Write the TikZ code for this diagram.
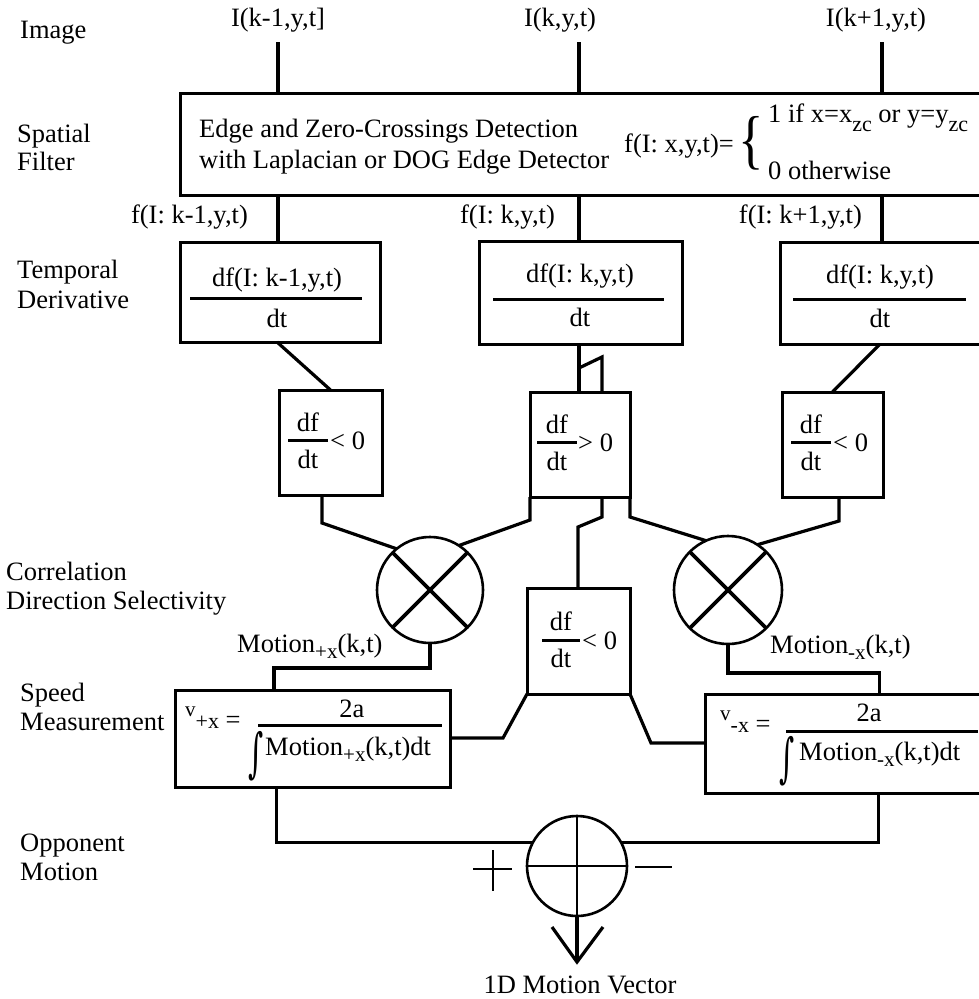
\documentclass[tikz,border=0pt]{standalone}
\usepackage{fontspec}
\setmainfont{Liberation Serif}
\newfontfamily\dejav{DejaVu Serif}
\usepackage{graphicx}
\usetikzlibrary{calc}
\newcommand\sbs[1]{\raisebox{-6pt}{\fontsize{21}{22}\selectfont #1}}
\newcommand\sbz[1]{\raisebox{-9pt}{\fontsize{22}{22}\selectfont #1}}
\begin{document}
\begin{tikzpicture}[x=1pt,y=-1pt,
 font=\fontsize{26.5}{30}\selectfont,
 box/.style={draw,line width=3pt,inner sep=0pt,outer sep=0pt},
 wire/.style={line width=3.2pt},
 xwire/.style={line width=3.6pt},
 fbar/.style={line width=3pt},
 tb/.style={inner sep=0pt,anchor=base},
 tw/.style={inner sep=0pt,anchor=base west},
 te/.style={inner sep=0pt,anchor=base east},
 ring/.style={draw,circle,line width=2.6pt,inner sep=0pt,outer sep=0pt}]
\useasboundingbox (0,0) rectangle (979,999);
\clip (0,0) rectangle (979,999);
% left labels
\node[tw] (labImg) at (20,38) {Image};
\node[tw] (labSp1) at (17,142) {Spatial};
\node[tw] (labSp2) at (17,170) {Filter};
\node[tw] (labTd1) at (17,278) {Temporal};
\node[tw] (labTd2) at (17,308) {Derivative};
\node[tw] (labCo1) at (6,580) {Correlation};
\node[tw] (labCo2) at (6,609) {Direction Selectivity};
\node[tw] (labSm1) at (20,701) {Speed};
\node[tw] (labSm2) at (20,730) {Measurement};
\node[tw] (labOm1) at (20,851) {Opponent};
\node[tw] (labOm2) at (20,880) {Motion};
% inputs
\node[tb] (inL) at (278,26) {I(k-1,y,t]};
\node[tb] (inM) at (560,26) {I(k,y,t)};
\node[tb] (inR) at (876,26) {I(k+1,y,t)};
\coordinate (tL) at (278,42);
\coordinate (tM) at (579,42);
\coordinate (tR) at (882,42);
% spatial filter
\node[box,minimum width=810pt,minimum height=102pt] (sf) at (585,144) {};
\node[tw] (e1) at (199,137) {Edge and Zero-Crossings Detection};
\node[tw] (e2) at (199,168) {with Laplacian or DOG Edge Detector};
\node[tw] (fx) at (624,152) {f(I: x,y,t)=};
\node[inner sep=0pt] (br) at (751,143) {\scalebox{2.0}[2.45]{\{}};
\node[tw] (c1) at (768,122) {1 if x=x\sbz{zc} or y=y\sbz{zc}};
\node[tw] (c2) at (768,179) {0 otherwise};
\draw[wire] (tL) -- (tL |- sf.north);
\draw[wire] (tM) -- (tM |- sf.north);
\draw[wire] (tR) -- (tR |- sf.north);
% temporal derivative
\node[box,minimum width=200pt,minimum height=100pt] (dL) at (280,292) {};
\node[box,minimum width=203pt,minimum height=103pt] (dM) at (580.5,292.5) {};
\node[box,minimum width=210pt,minimum height=102pt] (dR) at (885,293) {};
\node[te] (fL) at (248,223) {f(I: k-1,y,t)};
\node[te] (fM) at (555,223) {f(I: k,y,t)};
\node[te] (fR) at (862,223) {f(I: k+1,y,t)};
\draw[wire] (tL |- sf.south) -- (tL |- dL.north);
\draw[wire] (tM |- sf.south) -- (tM |- dM.north);
\draw[wire] (tR |- sf.south) -- (tR |- dR.north);
\node[tb] (dLn) at (277,286) {df(I: k-1,y,t)};
\draw[fbar] (190,298) -- (362,298);
\node[tb] (dLd) at (277,327) {dt};
\node[tb] (dMn) at (580,282) {df(I: k,y,t)};
\draw[fbar] (493,299) -- (664,299);
\node[tb] (dMd) at (580,326) {dt};
\node[tb] (dRn) at (880,283) {df(I: k,y,t)};
\draw[fbar] (793,299) -- (966,299);
\node[tb] (dRd) at (880,327) {dt};
% sign boxes
\node[box,minimum width=103pt,minimum height=105pt] (sL) at (330.5,442.5) {};
\node[box,minimum width=100pt,minimum height=105pt] (sM) at (580,444.5) {};
\node[box,minimum width=101pt,minimum height=105pt] (sR) at (832.5,444.5) {};
\node[tb] (sLn) at (308,431) {df};
\draw[fbar] (288,440) -- (328,440);
\node[tb] (sLd) at (308,468) {dt};
\node[tw] (sLr) at (330,449) {< 0};
\node[tb] (sMn) at (557,433) {df};
\draw[fbar] (537,442) -- (577,442);
\node[tb] (sMd) at (557,470) {dt};
\node[tw] (sMr) at (578,451) {> 0};
\node[tb] (sRn) at (811,433) {df};
\draw[fbar] (791,442) -- (831,442);
\node[tb] (sRd) at (811,470) {dt};
\node[tw] (sRr) at (833,451) {< 0};
\draw[wire] ([xshift=-3pt]dL.south) -- (sL.north);
\draw[wire] (tM |- dM.south) -- (tM |- sM.north);
\coordinate (jA) at (579,368);
\coordinate (jB) at (602,357);
\draw[wire] (jA) -- (jB) -- (jB |- sM.north);
\draw[wire] ([xshift=-5pt]dR.south) -- (sR.north);
% correlators
\node[ring,minimum size=106pt] (cL) at (430,590) {};
\node[ring,minimum size=108pt] (cR) at (728,590) {};
\draw[xwire] (cL.45) -- (cL.225) (cL.135) -- (cL.315);
\draw[xwire] (cR.45) -- (cR.225) (cR.135) -- (cR.315);
\draw[wire] ([xshift=-8.5pt]sL.south) -- ++(0,28) -- (cL.129.5);
\draw[wire] (sM.south west) -- ++(0,23) -- (cL.57);
\draw[wire] (sM.south east) -- ++(0,20) -- (cR.114);
\draw[wire] ([xshift=6.5pt]sR.south) -- ++(0,24) -- (cR.57);
% lower middle
\node[box,minimum width=103pt,minimum height=106pt] (lm) at (578.5,641) {};
\coordinate (jC) at (578,527);
\draw[wire] ([xshift=22pt]sM.south) -- ++(0,20) -- (jC) -- (jC |- lm.north);
\node[tb] (lmn) at (561,630) {df};
\draw[fbar] (542,640) -- (580,640);
\node[tb] (lmd) at (561,667) {dt};
\node[tw] (lmr) at (582,649) {< 0};
% motion labels
\node[tw] (mP) at (237,652) {Motion\sbs{+x}(k,t)};
\node[tw] (mN) at (770,653) {Motion\sbs{-x}(k,t)};
% speed boxes
\node[box,minimum width=275pt,minimum height=97pt] (vL) at (312.5,738.5) {};
\node[box,minimum width=285pt,minimum height=99pt] (vR) at (847.5,743.5) {};
\draw[wire] (cL.south) -- ++(0,25) -| ([xshift=-38.5pt]vL.north);
\draw[wire] (cR.south) -- ++(0,29) -| ([xshift=32pt]vR.north);
\coordinate (kL) at (503,738);
\coordinate (kR) at (651,743);
\draw[wire] (lm.south west) -- (kL) -- (kL -| vL.east);
\draw[wire] (lm.south east) -- (kR) -- (kR -| vR.west);
\node[tw] (vLa) at (185,728) {\raisebox{12pt}{\fontsize{21}{22}\selectfont v}{\fontsize{22}{22}\selectfont +x} =};
\node[tb] (vLn) at (352,717) {2a};
\draw[fbar] (258,725) -- (442,725);
\node[inner sep=0pt] (vLi) at (256,756) {\scalebox{1.1}[2.0]{\dejav ∫}};
\node[tw] (vLd) at (265,755) {Motion\sbs{+x}(k,t)dt};
\node[tw] (vRa) at (720,732) {\raisebox{12pt}{\fontsize{21}{22}\selectfont v}{\fontsize{22}{22}\selectfont -x} =};
\node[tb] (vRn) at (869,721) {2a};
\draw[fbar] (786,731) -- (978,731);
\node[inner sep=0pt] (vRi) at (787,761) {\scalebox{1.1}[2.0]{\dejav ∫}};
\node[tw] (vRd) at (799,760) {Motion\sbs{-x}(k,t)dt};
% opponent
\node[ring,minimum size=100pt] (op) at (577,866) {};
\coordinate (tip) at (577,962);
\draw[line width=2.4pt] (op.west) -- (op.east);
\draw[line width=2.4pt] (op.north) -- (op.south);
\draw[wire] (op.south) -- (tip);
\draw[wire] ($(tip)+(-25,-35)$) -- (tip) -- ($(tip)+(26,-35)$);
\draw[wire] ([xshift=-36pt]vL.south) |- (op.152);
\draw[wire] ([xshift=31pt]vR.south) |- (op.28);
\draw[line width=2.2pt] (473,869) -- (512,869) (493,850) -- (493,891);
\draw[line width=2.2pt] (635,867) -- (672,867);
\node[tb] (out) at (580,993) {1D Motion Vector};
\end{tikzpicture}
\end{document}
